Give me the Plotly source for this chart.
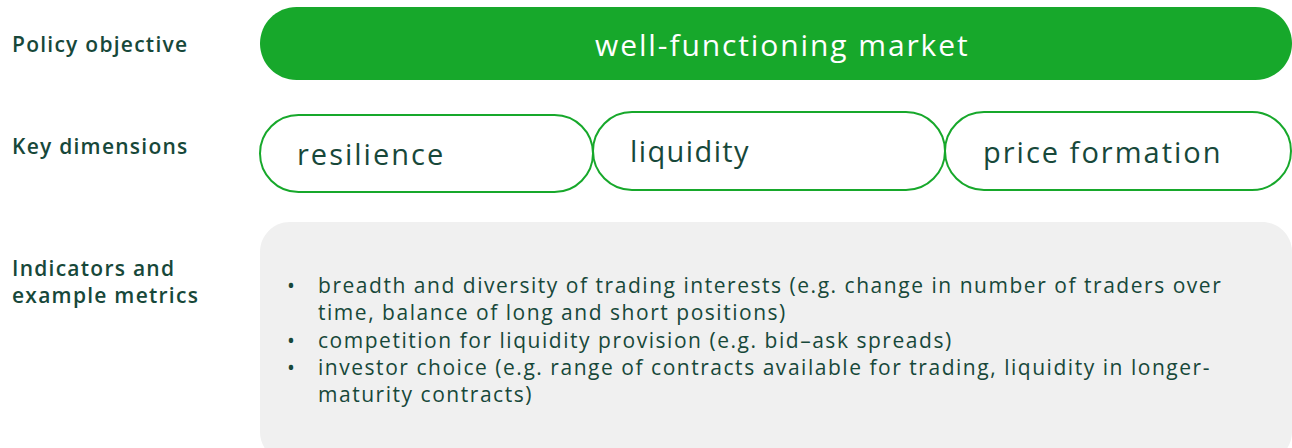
import plotly.graph_objects as go

# ---- content ----
row_labels = ["Policy objective", "Key dimensions", "Indicators and<br>example metrics"]
objective = "well-functioning market"
dimensions = ["resilience", "liquidity", "price formation"]
bullets = ["•", "", "•", "•", ""]
bullet_lines = [
    "breadth and diversity of trading interests (e.g. change in number of traders over",
    "time, balance of long and short positions)",
    "competition for liquidity provision (e.g. bid\u2013ask spreads)",
    "investor choice (e.g. range of contracts available for trading, liquidity in longer-",
    "maturity contracts)",
]

# ---- styling / layout ----
W, H = 1292, 448
GREEN = "#17a82b"
TEXT = "#17483a"
GREY = "#f0f0f0"
FONT = "Open Sans"

K = 0.5523


def rrect(x0, y0, x1, y1, r):
    """Rounded rectangle path (y grows downward) using cubic Beziers."""
    c = r * K
    return (
        f"M{x0 + r},{y0} L{x1 - r},{y0} "
        f"C{x1 - r + c},{y0} {x1},{y0 + r - c} {x1},{y0 + r} "
        f"L{x1},{y1 - r} "
        f"C{x1},{y1 - r + c} {x1 - r + c},{y1} {x1 - r},{y1} "
        f"L{x0 + r},{y1} "
        f"C{x0 + r - c},{y1} {x0},{y1 - r + c} {x0},{y1 - r} "
        f"L{x0},{y0 + r} "
        f"C{x0},{y0 + r - c} {x0 + r - c},{y0} {x0 + r},{y0} Z"
    )


def spaced(t, ls):
    return f'<span style="letter-spacing:{ls}px">{t}</span>'


fig = go.Figure()
shapes = []
annotations = []

# objective pill
obj_box = (260, 7, 1292, 80)
shapes.append(dict(type="path", path=rrect(*obj_box, (obj_box[3] - obj_box[1]) / 2),
                   fillcolor=GREEN, line=dict(width=0), layer="below"))
annotations.append(dict(x=593, y=44, text=spaced(objective, 1.9), showarrow=False, xanchor="left",
                        yanchor="middle", font=dict(family=FONT, size=30, color="white")))

# dimension pills
dim_boxes = [(260, 115, 593, 192), (593, 112, 945, 190), (945, 112, 1291, 190)]
dim_text_x = [295, 628, 981]
dim_text_y = [153, 150, 151]
dim_spacing = [2.0, 1.4, 2.0]
for (x0, y0, x1, y1), name, tx, ty, ls in zip(dim_boxes, dimensions, dim_text_x, dim_text_y, dim_spacing):
    shapes.append(dict(type="path", path=rrect(x0, y0, x1, y1, (y1 - y0) / 2),
                       fillcolor="rgba(0,0,0,0)", line=dict(color=GREEN, width=2)))
    annotations.append(dict(x=tx, y=ty, text=spaced(name, ls), showarrow=False, xanchor="left",
                            yanchor="middle", font=dict(family=FONT, size=29, color=TEXT)))

# grey indicator box
shapes.append(dict(type="path", path=rrect(260, 222, 1292, 462, 30),
                   fillcolor=GREY, line=dict(width=0), layer="below"))

# bullets column and text column (single multi-line annotations)
annotations.append(dict(x=291, y=284, text="<br>".join(b if b else " " for b in bullets),
                        showarrow=False, xanchor="center", yanchor="top", align="center",
                        yshift=15.5, font=dict(family=FONT, size=21, color=TEXT)))
annotations.append(dict(x=316, y=284, text=spaced("<br>".join(bullet_lines), 1.53),
                        showarrow=False, xanchor="left", yanchor="top", align="left",
                        yshift=15.5, font=dict(family=FONT, size=21, color=TEXT)))

# row labels
label_y = [44, 146, 281]
for lab, y in zip(row_labels, label_y):
    annotations.append(dict(x=10, y=y, text=spaced(lab, 1.25), showarrow=False,
                            xanchor="left", yanchor="middle", align="left",
                            font=dict(family=FONT, size=21, weight=600, color=TEXT)))

fig.update_layout(
    width=W, height=H, autosize=False,
    margin=dict(l=0, r=0, t=0, b=0),
    paper_bgcolor="white", plot_bgcolor="white",
    xaxis=dict(range=[0, W], visible=False, fixedrange=True),
    yaxis=dict(range=[H, 0], visible=False, fixedrange=True),
    shapes=shapes, annotations=annotations, showlegend=False,
)

fig.write_html("out.html", config={"displayModeBar": False},
               post_script="document.body.style.margin='0';document.body.style.overflow='hidden';")
